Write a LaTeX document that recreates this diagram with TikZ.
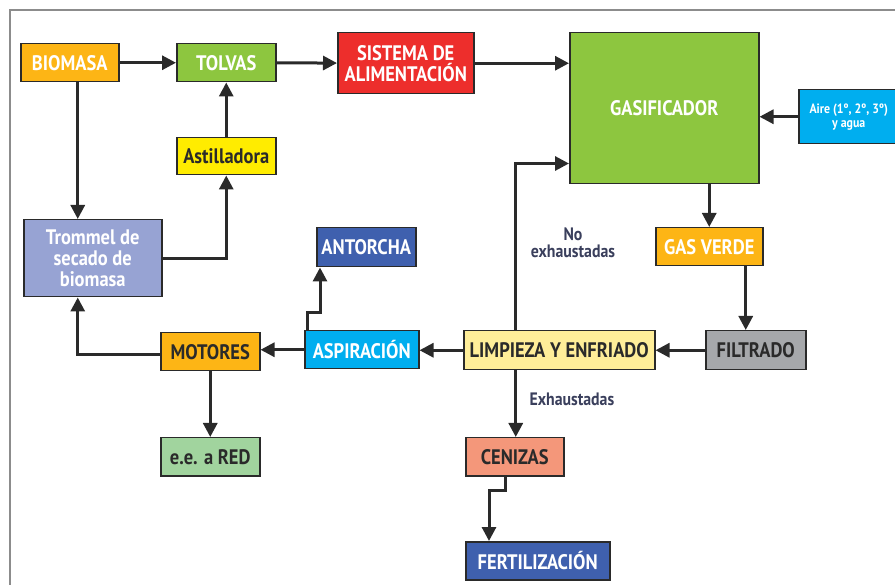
\documentclass[tikz,border=0pt]{standalone}
\usepackage{fontspec}
\setmainfont{PT Sans}[FakeStretch=0.88]
\usetikzlibrary{arrows.meta,calc}
\definecolor{corange}{HTML}{FDB515}
\definecolor{cgreen}{HTML}{8DC63F}
\definecolor{cred}{HTML}{ED2E2C}
\definecolor{ccyan}{HTML}{00AEEF}
\definecolor{cyellow}{HTML}{FFEC00}
\definecolor{clav}{HTML}{97A3D3}
\definecolor{cdblue}{HTML}{3F60AE}
\definecolor{clyellow}{HTML}{FFEE99}
\definecolor{cgray}{HTML}{A6A8AB}
\definecolor{clgreen}{HTML}{A1D49E}
\definecolor{csalmon}{HTML}{F4977A}
\definecolor{cdark}{HTML}{2A2A2A}
\definecolor{clabel}{HTML}{3A3F5C}
\tikzset{
  box/.style={draw=cdark,line width=1.5pt,rectangle,inner sep=0pt,anchor=north west,
    align=center,font=\fontsize{21}{21}\selectfont\bfseries},
  wbox/.style={box,text=white},
  kbox/.style={box,text=cdark},
  arr/.style={draw=cdark,line width=3pt,-{Triangle[length=14pt,width=14pt]}},
  lbl/.style={text=clabel,font=\fontsize{18}{17}\selectfont\bfseries,align=center},
}
\begin{document}
\begin{tikzpicture}[x=1pt,y=-1pt]
\useasboundingbox (0,0) rectangle (895,585);
\draw[gray!90,line width=2pt] (10,590) -- (10,10.5) -- (900,10.5);
% nodes
\node[wbox,fill=corange,minimum width=98pt,minimum height=38pt] (biomasa) at (20,43) {BIOMASA};
\node[wbox,fill=cgreen,minimum width=99pt,minimum height=38pt] (tolvas) at (176,43) {TOLVAS};
\node[wbox,fill=cred,minimum width=136pt,minimum height=61pt] (sistema) at (337,32) {SISTEMA DE\\ALIMENTACIÓN};
\node[wbox,fill=cgreen,minimum width=189pt,minimum height=151pt] (gasif) at (569,32) {GASIFICADOR};
\node[wbox,fill=ccyan,minimum width=100pt,minimum height=54pt,font=\fontsize{13.5}{14}\selectfont\bfseries] (aire) at (798,89) {Aire (1º, 2º, 3º)\\y agua};
\node[kbox,fill=cyellow,minimum width=99pt,minimum height=37pt] (astill) at (176,137) {Astilladora};
\node[wbox,fill=clav,minimum width=138pt,minimum height=77pt] (trommel) at (23,219) {Trommel de\\secado de\\biomasa};
\node[wbox,fill=cdblue,minimum width=99pt,minimum height=39pt] (antorcha) at (316,227) {ANTORCHA};
\node[wbox,fill=corange,minimum width=107pt,minimum height=38pt] (gasverde) at (655,227) {GAS VERDE};
\node[kbox,fill=corange,minimum width=99pt,minimum height=38pt] (motores) at (160,332) {MOTORES};
\node[wbox,fill=ccyan,minimum width=114pt,minimum height=38pt] (aspir) at (304,330) {ASPIRACIÓN};
\node[kbox,fill=clyellow,minimum width=191pt,minimum height=39pt] (limpieza) at (463,330) {LIMPIEZA Y ENFRIADO};
\node[kbox,fill=cgray,minimum width=100pt,minimum height=39pt] (filtrado) at (705,330) {FILTRADO};
\node[kbox,fill=clgreen,minimum width=99pt,minimum height=38pt] (eered) at (160,437) {e.e. a RED};
\node[kbox,fill=csalmon,minimum width=98pt,minimum height=38pt] (cenizas) at (465,437) {CENIZAS};
\node[wbox,fill=cdblue,minimum width=144pt,minimum height=38pt] (fert) at (465,541) {FERTILIZACIÓN};
% labels
\node[lbl] (noex) at (573,243) {No\\exhaustadas};
\node[lbl,anchor=west] (ex) at (526,399) {Exhaustadas};
% helper coordinates
\coordinate (tcol) at ([xshift=-15pt]trommel.south);
\coordinate (fx) at ([xshift=-10pt]filtrado.north);
\coordinate (lx) at ([xshift=-43.5pt]limpieza.north);
\coordinate (gin) at ([yshift=21pt]gasif.south west);
\coordinate (c1) at ([xshift=-9pt]cenizas.south);
\coordinate (fin) at ([xshift=24pt]fert.north west);
\coordinate (a1) at ([xshift=3pt]aspir.north west);
\coordinate (ain) at ([xshift=4pt]antorcha.south west);
% connectors
\draw[arr] (biomasa) -- (tolvas);
\draw[arr] (tolvas) -- (sistema);
\draw[arr] (sistema.east) -- (sistema.east -| gasif.west);
\draw[arr] (biomasa.south -| tcol) -- (trommel.north -| tcol);
\draw[arr] (trommel.east) -| (astill.south);
\draw[arr] (astill) -- (tolvas);
\draw[arr] (aire.west) -- (aire.west -| gasif.east);
\draw[arr] (gasverde.north |- gasif.south) -- (gasverde.north);
\draw[arr] (gasverde.south -| fx) -- (fx);
\draw[arr] (filtrado) -- (limpieza);
\draw[arr] (limpieza.west) -- (limpieza.west -| aspir.east);
\draw[arr] (lx) |- (gin);
\draw[arr] (lx |- limpieza.south) -- (lx |- cenizas.north);
\draw[arr] (c1) -- ++(0,14) -| (fin);
\draw[arr] (a1) -- ++(0,-17) -| (ain);
\draw[arr] (aspir.west) -- (aspir.west -| motores.east);
\draw[arr] ([yshift=-3pt]motores.west) -| (tcol);
\draw[arr] (motores) -- (eered);
\end{tikzpicture}
\end{document}
